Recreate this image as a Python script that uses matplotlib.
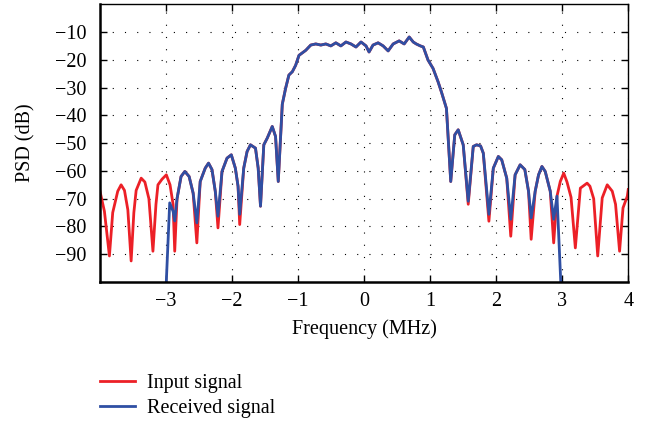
import matplotlib
matplotlib.use("Agg")
import matplotlib.pyplot as plt
import numpy as np

# ---- data ----
input_freq = [-4.0, -3.933, -3.857, -3.807, -3.731, -3.680, -3.629, -3.578, -3.528, -3.487,
              -3.452, -3.376, -3.320, -3.259, -3.198, -3.152, -3.122, -3.061, -2.995, -2.939,
              -2.893, -2.868, -2.833, -2.772, -2.715, -2.650, -2.589, -2.533, -2.482, -2.406,
              -2.356, -2.304, -2.254, -2.213, -2.152, -2.076, -2.011, -1.950, -1.909, -1.884,
              -1.823, -1.772, -1.721, -1.645, -1.604, -1.569, -1.519, -1.467, -1.391, -1.341,
              -1.300, -1.239, -1.189, -1.139, -1.087, -1.037, -0.986, -0.884, -0.808, -0.732,
              -0.656, -0.580, -0.504, -0.428, -0.352, -0.275, -0.199, -0.123, -0.047, 0.029,
              0.075, 0.135, 0.212, 0.288, 0.364, 0.440, 0.531, 0.607, 0.683, 0.744,
              0.790, 0.851, 0.897, 0.968, 1.044, 1.120, 1.170, 1.247, 1.312, 1.373,
              1.425, 1.501, 1.577, 1.653, 1.703, 1.764, 1.805, 1.890, 1.957, 2.033,
              2.084, 2.160, 2.221, 2.287, 2.363, 2.434, 2.490, 2.530, 2.591, 2.642,
              2.693, 2.743, 2.819, 2.871, 2.921, 2.971, 3.023, 3.073, 3.134, 3.199,
              3.275, 3.377, 3.420, 3.477, 3.538, 3.606, 3.682, 3.758, 3.808, 3.869,
              3.921, 3.986, 4.0]
input_psd = [-67.3, -74.5, -90.6, -75.0, -67.3, -65.0, -67.0, -74.0, -92.4, -75.0,
             -67.0, -62.6, -64.0, -70.0, -88.9, -72.0, -65.0, -63.0, -61.4, -65.0,
             -72.0, -88.9, -70.0, -62.0, -60.2, -62.0, -68.0, -85.9, -63.8, -59.0,
             -57.2, -59.5, -67.3, -80.5, -60.2, -55.4, -54.2, -59.0, -65.5, -79.3,
             -59.0, -53.0, -50.6, -51.8, -59.0, -72.7, -50.6, -48.2, -44.0, -47.6,
             -63.8, -36.0, -30.3, -25.5, -24.3, -22.0, -18.4, -16.6, -14.7, -14.3,
             -14.7, -14.3, -15.0, -13.9, -15.0, -13.6, -14.3, -15.4, -13.6, -15.0,
             -17.2, -14.7, -13.9, -15.0, -16.8, -14.3, -13.2, -14.3, -11.8, -13.6,
             -14.3, -15.0, -15.4, -20.1, -23.1, -27.9, -31.5, -37.5, -63.8, -47.0,
             -45.2, -50.6, -72.0, -51.2, -50.6, -51.0, -53.6, -78.1, -59.0, -54.8,
             -56.0, -62.6, -83.5, -61.4, -57.8, -59.5, -67.3, -84.6, -67.3, -61.4,
             -58.4, -60.2, -67.3, -85.9, -69.1, -63.8, -60.8, -64.0, -69.5, -87.7,
             -66.2, -64.4, -65.5, -70.0, -90.6, -69.7, -65.0, -67.3, -72.0, -88.9,
             -73.3, -69.1, -66.7]

received_freq = [-3.000, -2.995, -2.944, -2.893, -2.868, -2.833, -2.772, -2.715, -2.650, -2.589,
                 -2.533, -2.482, -2.406, -2.356, -2.304, -2.254, -2.213, -2.152, -2.076, -2.011,
                 -1.950, -1.909, -1.884, -1.823, -1.772, -1.721, -1.645, -1.604, -1.569, -1.519,
                 -1.467, -1.391, -1.341, -1.300, -1.239, -1.189, -1.139, -1.087, -1.037, -0.986,
                 -0.884, -0.808, -0.732, -0.656, -0.580, -0.504, -0.428, -0.352, -0.275, -0.199,
                 -0.123, -0.047, 0.029, 0.075, 0.135, 0.212, 0.288, 0.364, 0.440, 0.531,
                 0.607, 0.683, 0.744, 0.790, 0.851, 0.897, 0.968, 1.044, 1.120, 1.170,
                 1.247, 1.312, 1.373, 1.425, 1.501, 1.577, 1.653, 1.703, 1.764, 1.805,
                 1.890, 1.957, 2.033, 2.084, 2.160, 2.221, 2.287, 2.363, 2.434, 2.490,
                 2.530, 2.591, 2.642, 2.693, 2.743, 2.819, 2.871, 2.921, 2.997]
received_psd = [-110.0, -99.6, -71.5, -74.5, -78.0, -70.0, -62.0, -60.2, -62.0, -68.0,
                -78.7, -63.8, -59.0, -57.2, -59.5, -67.3, -76.3, -60.2, -55.4, -54.2,
                -59.0, -65.5, -75.6, -59.0, -53.0, -50.6, -51.8, -59.0, -72.7, -50.6,
                -48.2, -44.0, -47.6, -63.8, -36.0, -30.3, -25.5, -24.3, -22.0, -18.4,
                -16.6, -14.7, -14.3, -14.7, -14.3, -15.0, -13.9, -15.0, -13.6, -14.3,
                -15.4, -13.6, -15.0, -17.2, -14.7, -13.9, -15.0, -16.8, -14.3, -13.2,
                -14.3, -11.8, -13.6, -14.3, -15.0, -15.4, -20.1, -23.1, -27.9, -31.5,
                -37.5, -63.8, -47.0, -45.2, -50.6, -70.9, -51.2, -50.6, -51.0, -53.6,
                -75.6, -59.0, -54.8, -56.0, -62.6, -77.4, -61.4, -57.8, -59.5, -67.3,
                -76.9, -67.3, -61.4, -58.4, -60.2, -67.3, -77.4, -69.1, -110.0]

x_ticks = [-3, -2, -1, 0, 1, 2, 3, 4]
y_ticks = [-10, -20, -30, -40, -50, -60, -70, -80, -90]

FS = 14.5
plt.rcParams['font.family'] = ['Liberation Serif', 'DejaVu Serif']
plt.rcParams['font.size'] = FS

fig = plt.figure(figsize=(6.45, 4.21), dpi=100)
ax = fig.add_axes([0.155, 0.330, 0.819, 0.660])

ax.plot(input_freq, input_psd, color='#ec2027', lw=2.0, label='Input signal', solid_joinstyle='round')
ax.plot(received_freq, received_psd, color='#2f4fa3', lw=2.0, label='Received signal', solid_joinstyle='round')

ax.set_xlim(-4, 4)
ax.set_ylim(-100, 0)
ax.set_xticks(x_ticks)
ax.set_yticks(y_ticks)
ax.tick_params(direction='in', top=True, right=True, length=5, width=1.0, labelsize=FS)
ax.tick_params(axis='x', pad=7)
ax.tick_params(axis='y', pad=10)
ax.grid(True, color='black', linestyle=(0, (1, 10)), linewidth=0.8)

for s in ['left', 'bottom']:
    ax.spines[s].set_linewidth(1.8)
for s in ['top', 'right']:
    ax.spines[s].set_linewidth(1.0)

ax.set_xlabel('Frequency (MHz)', fontsize=FS, labelpad=6)
ax.set_ylabel('PSD (dB)', fontsize=FS, labelpad=13.5)

h, l = ax.get_legend_handles_labels()
fig.legend(h, l, loc='upper left', bbox_to_anchor=(0.143, 0.131), frameon=False,
           fontsize=FS, handlelength=1.7, handletextpad=0.6, labelspacing=0.3,
           borderaxespad=0.0)

fig.savefig('out.png', dpi=100)
